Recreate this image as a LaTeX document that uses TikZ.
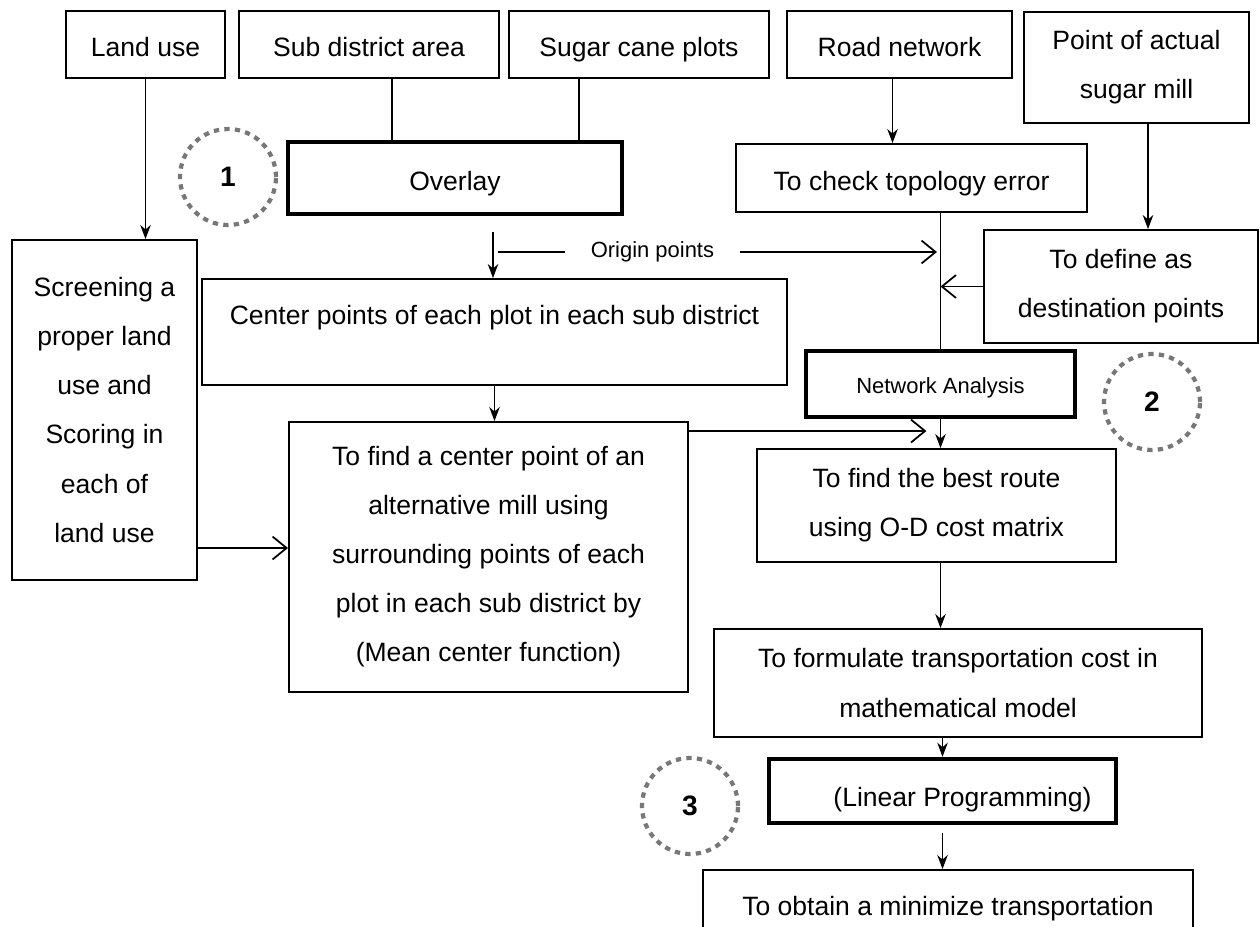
\documentclass[tikz,border=0pt]{standalone}
\usepackage{fontspec}
\setmainfont{Liberation Sans}
\usetikzlibrary{arrows.meta}
\definecolor{dotgray}{HTML}{777777}
\begin{document}
\begin{tikzpicture}[x=0.02cm,y=-0.02cm,
  plainbox/.style={draw,line width=1.1pt,align=center,inner sep=0pt,font=\fontsize{15.1}{27.9}\selectfont},
  heavybox/.style={plainbox,line width=2.6pt},
  oneline/.style={text height=15pt,text depth=1pt},
  dims/.style 2 args={minimum width=#1*0.02cm,minimum height=#2*0.02cm},
  thinarrow/.style={line width=0.6pt,-{Stealth[length=8pt,width=6pt]}},
  openarrow/.style={line width=1pt,-{Straight Barb[length=8pt,width=13pt,line width=1pt]}},
  ring/.style={circle,draw=dotgray,line width=2.4pt,dash pattern=on 3pt off 3pt,minimum size=96*0.02cm,font=\bfseries\fontsize{16}{18}\selectfont}]
\def\px{0.02cm}
\useasboundingbox (0,0) rectangle (1260,926);
\clip (0,0) rectangle (1260,926);
% input layers
\node[plainbox,oneline,dims={159}{67}] (landuse) at (145.5,44.5) {Land use};
\node[plainbox,oneline,dims={260}{67}] (subdist) at (369,44.5) {Sub district area};
\node[plainbox,oneline,dims={260}{67}] (sugarcane) at (639,44.5) {Sugar cane plots};
\node[plainbox,oneline,dims={225}{67}] (road) at (899.5,44.5) {Road network};
\node[plainbox,dims={225}{111}] (actualmill) at (1136.5,67.5) {Point of actual\\sugar mill};
% processing
\node[heavybox,oneline,dims={334}{72}] (overlay) at (455,178) {Overlay};
\node[plainbox,oneline,dims={351}{68}] (topology) at (911.5,178) {To check topology error};
\node[plainbox,dims={274}{113}] (destination) at (1121,286.5) {To define as\\destination points};
\node[plainbox,dims={185}{340}] (screening) at (104.5,410) {Screening a\\proper land\\use and\\Scoring in\\each of\\land use};
\node[plainbox,dims={585}{106},text height=11pt,text depth=19pt] (centerpts) at (494.5,332) {Center points of each plot in each sub district};
\node[plainbox,dims={399}{270}] (meancenter) at (488.5,557) {To find a center point of an\\alternative mill using\\surrounding points of each\\plot in each sub district by\\(Mean center function)};
\node[heavybox,dims={269}{66},text height=12pt,text depth=1pt,font=\fontsize{12.5}{15}\selectfont] (network) at (940.5,384) {Network Analysis};
\node[plainbox,dims={359}{113}] (bestroute) at (936.5,505.5) {To find the best route\\using O-D cost matrix};
\node[plainbox,dims={488}{108}] (formulate) at (958,683) {To formulate transportation cost in\\mathematical model};
\node[heavybox,dims={347}{64},text height=19pt,text depth=1pt] (linprog) at (942.5,791) {\hspace*{0.8cm}(Linear Programming)};
\node[plainbox,dims={490}{100},text height=11pt,text depth=15.6pt] (obtain) at (948,920) {To obtain a minimize transportation};
% step marks
\node[ring] (num1) at (228,177) {1};
\node[ring] (num2) at (1152,402) {2};
\node[ring] (num3) at (690,806) {3};
% connectors
\draw[thinarrow] (landuse.south) -- (landuse.south |- screening.north);
\draw[line width=1.1pt] ([xshift=23*\px]subdist.south) -- ([xshift=23*\px]subdist.south |- overlay.north);
\draw[line width=1.1pt] ([xshift=-60*\px]sugarcane.south) -- ([xshift=-60*\px]sugarcane.south |- overlay.north);
\draw[thinarrow] ([xshift=-7*\px]road.south) -- ([xshift=-7*\px]road.south |- topology.north);
\draw[thinarrow] ([xshift=11.5*\px]actualmill.south) -- ([xshift=11.5*\px]actualmill.south |- destination.north);
\draw[line width=0.5pt] (topology.south -| network.north) -- (network.north);
\coordinate (origin) at (493,232);
\draw[thinarrow] (origin) -- (origin |- centerpts.north);
\coordinate (originline) at (498,252);
\draw[openarrow,shorten >=2pt] (originline) -- node[pos=0.349,fill=white,inner xsep=26*\px,font=\fontsize{12.5}{15}\selectfont] {Origin points} (originline -| network.north);
\draw[openarrow] (destination.west) -- (destination.west -| network.north);
\draw[thinarrow] (centerpts.south) -- (centerpts.south |- meancenter.north);
\draw[openarrow] ([yshift=-138*\px]screening.east) -- ([yshift=-138*\px]screening.east -| meancenter.west);
\draw[openarrow,shorten >=8pt] ([yshift=-10*\px]meancenter.north east) -- ([yshift=-10*\px]meancenter.north east -| network.north);
\draw[thinarrow] (network.south) -- (network.south |- bestroute.north);
\draw[thinarrow] (network.south |- bestroute.south) -- (network.south |- formulate.north);
\draw[thinarrow] (linprog.north |- formulate.south) -- (linprog.north);
\draw[thinarrow] ([yshift=-8*\px]linprog.south) -- (linprog.south |- obtain.north);
\end{tikzpicture}
\end{document}
